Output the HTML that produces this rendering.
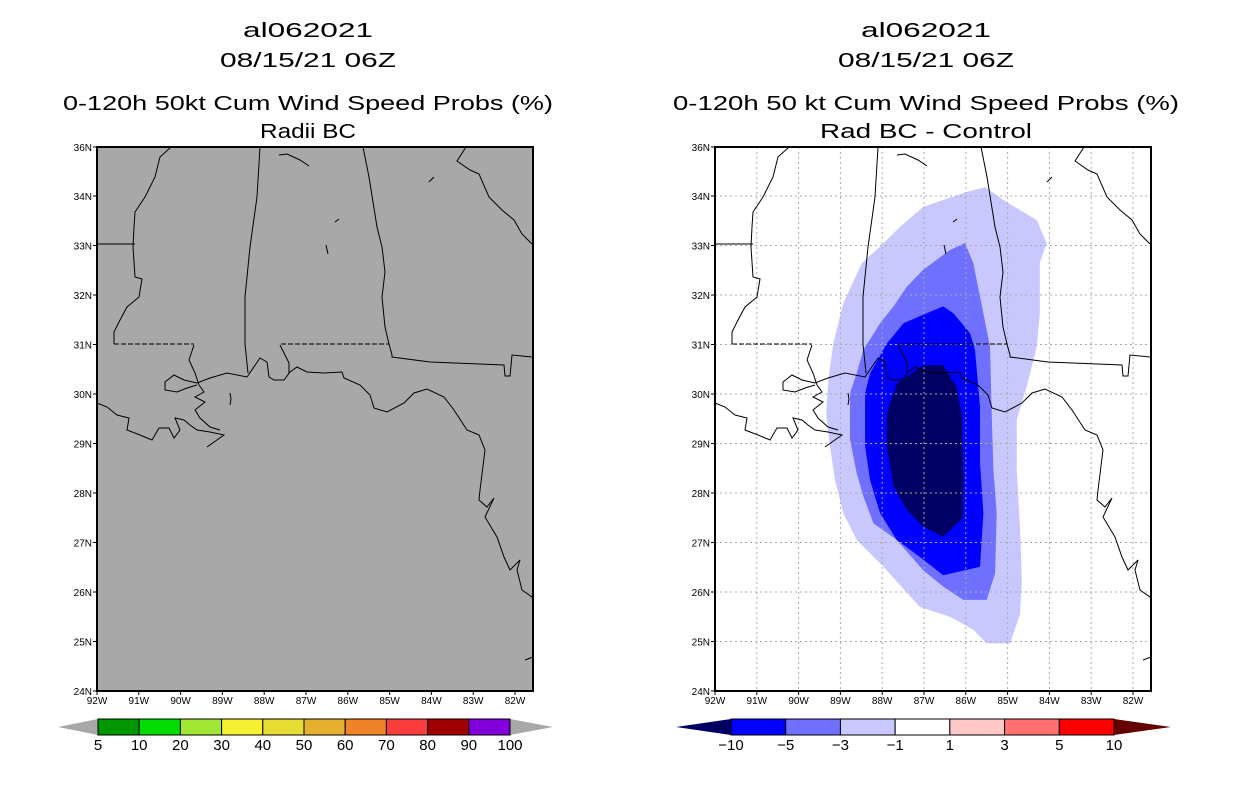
<!DOCTYPE html>
<html><head><meta charset="utf-8"><style>
html,body{margin:0;padding:0;background:#fff;}
svg{display:block;font-family:"Liberation Sans",sans-serif;}
</style></head><body>
<svg id="root" width="1236" height="800" viewBox="0 0 1236 800">
<defs>
<g id="geo" fill="none" stroke="#000" stroke-width="1">
<polyline points="74,0 63,10 58,30 48,50 38,65 37,80 36,100 38,130 45,132 42,150 30,160 22,175 17,185 17,197"/>
<polyline points="0,97 38,97"/>
<polyline points="163,0 160,50 153,100 148,150 148,197 151,226"/>
<polyline points="266,0 272,30 280,80 285,100 288,125 285,150 288,180 292,197 295,208 295,210 333,215 407,218 408,229 413,229 415,208 435,210"/>
<polyline points="17,197 97,197" stroke-dasharray="5,2"/>
<polyline points="184,197 292,197" stroke-dasharray="5,2"/>
<polyline points="183,198 192,216 192,226"/>
<polyline points="97,198 92,213 98,226 102,238"/>
<polyline points="100,236 113,231 130,226 150,230 163,211 170,215 172,230 177,233 187,233 193,225 200,220 210,225 227,226 245,225 247,231 263,238 273,248 277,261 290,265 307,256 317,246 330,242 347,250 357,263 370,283 382,288 388,303 383,343 382,353 390,360 397,351 388,370 400,390 407,410 413,423 423,413 420,423 425,443 435,450 436,453"/>
<polyline points="0,256 10,260 20,268 32,271 30,283 43,288 55,293 62,281 72,281 77,291 83,283 78,271 87,273 93,278 100,283 113,285 127,288 110,300"/>
<polyline points="102,238 107,245 98,250 108,255 98,263 103,271 113,280 123,283"/>
<polyline points="100,236 87,233 77,228 68,235 68,243 80,245 90,241 100,238"/>
<polyline points="133,246 134,252 133,258"/>
<polyline points="182,8 190,7 203,13 212,19"/>
<polyline points="302,0 335,0"/>
<polyline points="369,0 360,14 373,23 382,27 392,50 405,63 417,73 425,87 435,97"/>
<polyline points="238,75 242,72"/><polyline points="229,98 231,107"/><polyline points="332,35 337,30"/>
<polyline points="428,513 436,510"/>
</g>
</defs>

<g font-size="20" text-anchor="middle">
<text x="308" y="37" textLength="130" lengthAdjust="spacingAndGlyphs">al062021</text>
<text x="308" y="67" textLength="176" lengthAdjust="spacingAndGlyphs">08/15/21 06Z</text>
<text x="308" y="110" textLength="490" lengthAdjust="spacingAndGlyphs">0-120h 50kt Cum Wind Speed Probs (%)</text>
<text x="308" y="138" textLength="96" lengthAdjust="spacingAndGlyphs">Radii BC</text>
</g>
<g font-size="20" text-anchor="middle">
<text x="926" y="37" textLength="130" lengthAdjust="spacingAndGlyphs">al062021</text>
<text x="926" y="67" textLength="176" lengthAdjust="spacingAndGlyphs">08/15/21 06Z</text>
<text x="926" y="110" textLength="506" lengthAdjust="spacingAndGlyphs">0-120h 50 kt Cum Wind Speed Probs (%)</text>
<text x="926" y="138" textLength="212" lengthAdjust="spacingAndGlyphs">Rad BC - Control</text>
</g>

<g id="left-map">
<rect x="97" y="147" width="436" height="544" fill="#a8a8a8"/>
<use href="#geo" x="97" y="147"/>
</g>
<g id="right-map">
<rect x="715" y="147" width="436" height="544" fill="#fff"/>
<g id="contours"></g>
<g id="grid"></g>
<use href="#geo" x="715" y="147"/>
</g>
<g id="axes"></g>
<g id="cbars"></g>
</svg>
<script>
const NS='http://www.w3.org/2000/svg';
const lonTicks=[92,91,90,89,88,87,86,85,84,83,82];
const latTicks=[35,34,33,32,31,30,29,28,27,26,25,24];
const latLabels=['36N','34N','33N','32N','31N','30N','29N','28N','27N','26N','25N','24N'];
const contourLevels=['-1','-3','-5','-10'];
const contourColors=['#c8c8ff','#7070ff','#0000ff','#000064'];
const cLight=[[85.54,34.18],[85.98,34.08],[87.02,33.78],[87.57,33.38],[88.05,32.98],[88.49,32.64],[88.93,31.83],[89.17,31.02],[89.29,30.28],[89.34,29.60],[89.25,28.94],[89.13,28.26],[88.93,27.59],[88.61,27.05],[87.97,26.51],[87.10,25.70],[86.38,25.50],[85.82,25.24],[85.50,24.96],[84.94,24.96],[84.70,25.56],[84.66,26.24],[84.70,27.25],[84.78,28.46],[84.78,29.48],[84.54,30.16],[84.30,30.96],[84.23,31.63],[84.23,32.64],[84.07,33.05],[84.30,33.51],[85.10,33.92]];
const cMed=[[86.02,33.05],[86.38,32.91],[87.02,32.51],[87.41,32.17],[87.73,31.77],[88.05,31.43],[88.45,30.89],[88.61,30.42],[88.77,30.02],[88.77,29.08],[88.61,28.40],[88.45,27.93],[88.21,27.39],[87.65,27.05],[87.02,26.44],[86.54,26.11],[86.06,25.84],[85.50,25.84],[85.30,26.38],[85.26,27.59],[85.34,28.46],[85.38,29.60],[85.42,30.96],[85.66,31.97],[85.82,32.64]];
const cDark=[[86.54,31.77],[86.94,31.63],[87.49,31.43],[87.89,31.02],[88.29,30.42],[88.41,30.02],[88.41,28.94],[88.29,28.26],[88.05,27.59],[87.65,27.05],[87.10,26.71],[86.54,26.34],[85.66,26.51],[85.58,27.59],[85.66,28.60],[85.66,29.74],[85.78,30.89],[85.90,31.23],[86.30,31.63]];
const cNavy=[[87.02,30.58],[86.54,30.58],[86.22,30.14],[86.10,29.60],[86.06,28.26],[86.08,27.49],[86.54,27.12],[87.02,27.32],[87.41,27.66],[87.73,28.13],[87.89,28.94],[87.89,29.60],[87.65,30.21]];
const leftLabels=['5','10','20','30','40','50','60','70','80','90','100'];
const leftColors=['#009600','#00dc00','#a0e632','#f5f032','#e6dc32','#e6af2d','#f08228','#fa3c3c','#a00000','#8200dc'];
const rightLabels=['-10','-5','-3','-1','1','3','5','10'];
const rightColors=['#0000ff','#7070ff','#c8c8ff','#ffffff','#ffc8c8','#ff7070','#ff0000'];

const PX=41.8, PY=49.5;
function xs(x0,lon){return x0+(92-lon)*PX;}
function ys(lat){return 691-(lat-24)*PY;}
function mk(tag,attrs,parent){const e=document.createElementNS(NS,tag);for(const k in attrs)e.setAttribute(k,attrs[k]);parent.appendChild(e);return e;}

const cg=document.getElementById('contours');
[cLight,cMed,cDark,cNavy].forEach((poly,i)=>{
  const p=mk('polygon',{points:poly.map(d=>xs(715,d[0]).toFixed(1)+','+ys(d[1]).toFixed(1)).join(' '),fill:contourColors[i]},cg);
  
  
});
const gg=document.getElementById('grid');
lonTicks.forEach(l=>{const x=xs(715,l);if(x>716&&x<1150)mk('line',{x1:x,y1:147,x2:x,y2:691,stroke:'#aaa','stroke-dasharray':'2,3'},gg);});
latTicks.forEach(l=>{const y=ys(l);if(y>148&&y<690)mk('line',{x1:715,y1:y,x2:1151,y2:y,stroke:'#aaa','stroke-dasharray':'2,3'},gg);});

const ag=document.getElementById('axes');
[97,715].forEach(x0=>{
  mk('rect',{x:x0,y:147,width:436,height:544,fill:'none',stroke:'#000','stroke-width':2},ag);
  latTicks.forEach((l,i)=>{const y=Math.max(147,ys(l));
    mk('line',{x1:x0-4,y1:y,x2:x0,y2:y,stroke:'#000'},ag);
    const t=mk('text',{x:x0-5,y:y+4,'font-size':10,'text-anchor':'end'},ag);t.textContent=latLabels[i];
    
    
  });
  lonTicks.forEach(l=>{const x=xs(x0,l);
    mk('line',{x1:x,y1:691,x2:x,y2:695,stroke:'#000'},ag);
    const t=mk('text',{x:x,y:704,'font-size':10,'text-anchor':'middle'},ag);t.textContent=l+'W';
    
    
  });
});

const bg=document.getElementById('cbars');
function bar(x0,x1,tl,tr,y0,y1,cols,labels,lc,rc,name){
  const g=mk('g',{},bg);
  
  
  const ym=(y0+y1)/2,w=(x1-x0)/cols.length;
  mk('polygon',{points:`${tl},${ym} ${x0},${y0} ${x0},${y1}`,fill:lc},g);
  mk('polygon',{points:`${tr},${ym} ${x1},${y0} ${x1},${y1}`,fill:rc},g);
  cols.forEach((c,i)=>mk('rect',{x:x0+i*w,y:y0,width:w,height:y1-y0,fill:c,stroke:'#000','stroke-width':1},g));
  labels.forEach((s,i)=>{const t=mk('text',{x:x0+i*w,y:y1+15,'font-size':15,'text-anchor':'middle'},g);t.textContent=s.replace('-','\u2212');});
}
bar(98,510,58,553,719,735,leftColors,leftLabels,'#a8a8a8','#a8a8a8','left-colorbar');
bar(731,1114,676,1171,719,735,rightColors,rightLabels,'#000064','#640000','right-colorbar');
</script>
</body></html>
